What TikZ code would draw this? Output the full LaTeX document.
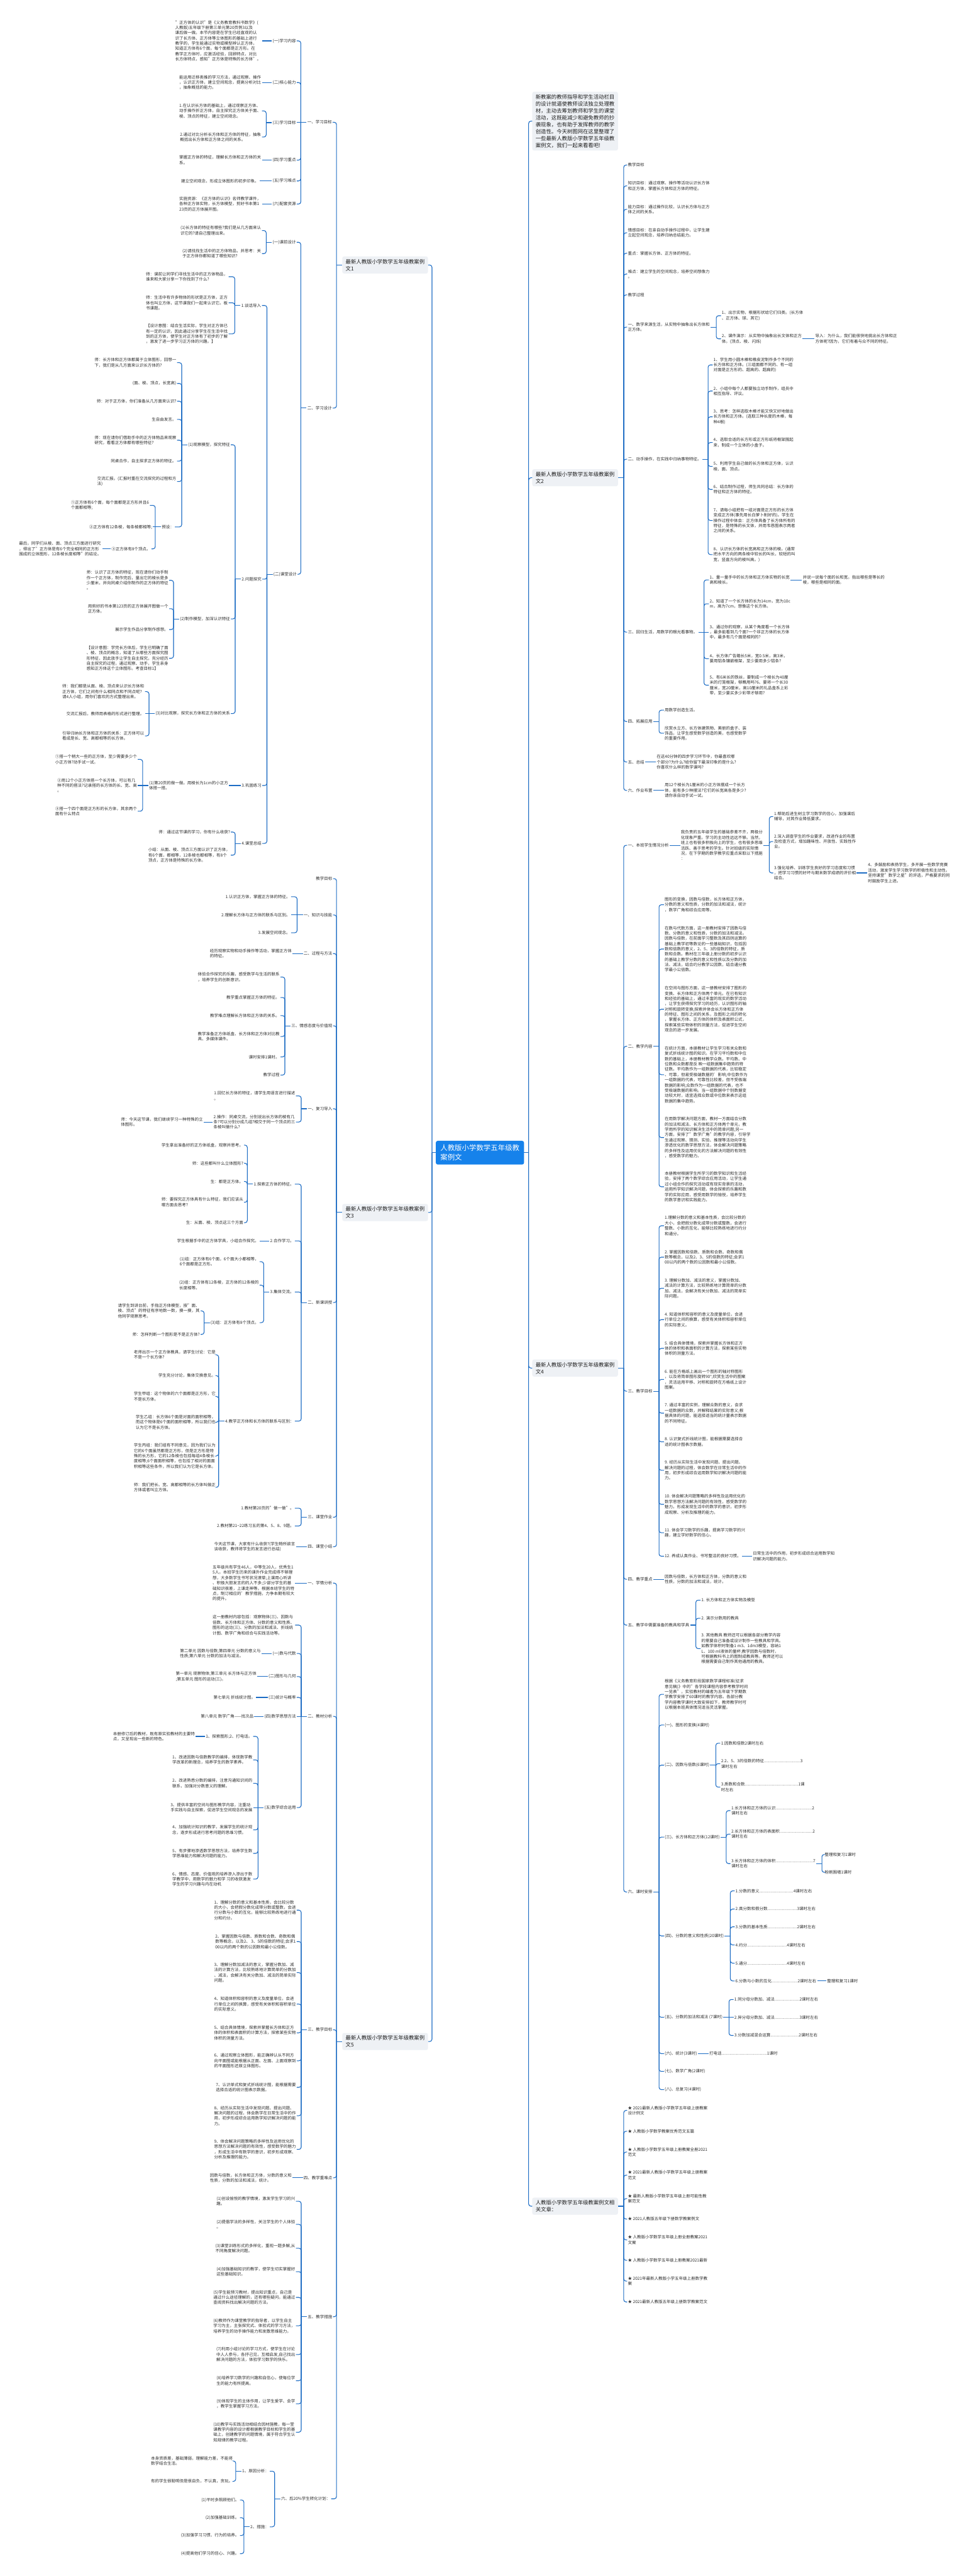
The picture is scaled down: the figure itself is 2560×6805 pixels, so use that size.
\documentclass[tikz,border=0pt]{standalone}
\usepackage{fontspec}
\setmainfont{Noto Sans CJK SC}
\usepackage{xcolor}
\definecolor{mmblue}{RGB}{28,108,196}
\definecolor{mmrootblue}{RGB}{22,130,235}
\definecolor{mmgray}{RGB}{238,241,245}
\definecolor{mmtext}{RGB}{45,45,45}
\definecolor{mmdark}{RGB}{30,30,30}
\usepackage{tikz}

\newcommand{\mmleaf}{\fontsize{10.8}{13.9}\selectfont}
\newcommand{\mmmain}{\fontsize{13.9}{18.3}\selectfont}
\newcommand{\mmrootf}{\fontsize{19}{25}\selectfont}

\tikzset{
  leaf/.style={font=\mmleaf, text=mmtext, align=left, inner sep=2pt},
  lnode/.style={leaf, anchor=east},
  rnode/.style={leaf, anchor=west},
  mainbox/.style={fill=mmgray, rounded corners=5pt, font=\mmmain, text=mmdark, align=left, inner xsep=9pt, inner ysep=7pt},
  rootbox/.style={fill=mmrootblue, rounded corners=5pt, font=\mmrootf, text=white, align=left, inner xsep=12pt, inner ysep=10pt},
  link/.style={draw=mmblue, line width=1.8pt, rounded corners=6pt}
}

% connectors: bracket to several children, or one straight line
\newcommand{\mmL}[2]{\draw[link] (#1.west) -- ++(-15,0);
  \foreach \kid in {#2} {\draw[link] ([xshift=-15pt]#1.west) |- (\kid.east);}}
\newcommand{\mmR}[2]{\draw[link] (#1.east) -- ++(15,0);
  \foreach \kid in {#2} {\draw[link] ([xshift=15pt]#1.east) |- (\kid.west);}}
\newcommand{\mmLs}[2]{\draw[link] (#1.west) -- (#1.west -| #2.east);}
\newcommand{\mmRs}[2]{\draw[link] (#1.east) -- (#1.east -| #2.west);}

\begin{document}
\begin{tikzpicture}[x=1pt, y=-1pt]
  \fill[white] (0,0) rectangle (2560,6805);
  \useasboundingbox (0,0) rectangle (2560,6805);

  % --- Root ---
  \node[rootbox] (root) at (1268,3045) {人教版小学数学五年级教\\案例文};

  % --- Main topics ---
  \node[mainbox, anchor=east] (L1) at (1131,700) {最新人教版小学数学五年级教案例\\文1};
  \node[mainbox, anchor=east] (L3) at (1131,3203) {最新人教版小学数学五年级教案例\\文3};
  \node[mainbox, anchor=east] (L5) at (1131,5393) {最新人教版小学数学五年级教案例\\文5};
  \node[mainbox, anchor=west] (R0) at (1406,320) {新教案的教师指导和学生活动栏目\\的设计就逼使教师设法独立处理教\\材，主动去筹划教师和学生的课堂\\活动，这既能减少和避免教师的抄\\袭现象，也有助于发挥教师的教学\\创造性。今天树图网在这里整理了\\一些最新人教版小学数学五年级教\\案例文，我们一起来看看吧!};
  \node[mainbox, anchor=west] (R2) at (1406,1262) {最新人教版小学数学五年级教案例\\文2};
  \node[mainbox, anchor=west] (R4) at (1406,3614) {最新人教版小学数学五年级教案例\\文4};
  \node[mainbox, anchor=west] (R6) at (1406,5828) {人教版小学数学五年级教案例文相\\关文章：};

  \draw[link] (root.west) -- ++(-10,0);
  \foreach \kid in {L1,L3,L5} {\draw[link] ([xshift=-10pt]root.west) |- (\kid.east);}
  \draw[link] (root.east) -- ++(12,0);
  \foreach \kid in {R0,R2,R4,R6} {\draw[link] ([xshift=12pt]root.east) |- (\kid.west);}

  % --- Left 1: lesson plan 1 ---
  \node[lnode] (l1a) at (879,323) {一、学习目标};
  \node[lnode] (l1a1) at (784,108) {(一)学习内容};
  \node[lnode] (l1a1t) at (692,108) {"正方体的认识"是《义务教育教科书数学》(\\人教版)五年级下册第三单元第20页例3以及\\课后做一做。本节内容是在学生已经直观的认\\识了长方体、正方体等立体图形的基础上进行\\教学的，学生能通过实物或模型辨认正方体，\\知道正方体有6个面，每个面都是正方形。在\\教学正方体时，应激活经验，回顾特点，对比\\长方体特点，感知"正方体是特殊的长方体"。};
  \node[lnode] (l1a2) at (784,218) {(二)核心能力};
  \node[lnode] (l1a2t) at (692,218) {能运用迁移类推的学习方法，通过观察、操作\\，认识正方体，建立空间观念，提高分析对比\\，抽象概括的能力。};
  \node[lnode] (l1a3) at (784,324) {(三)学习目标};
  \node[lnode] (l1a3a) at (692,293) {1.在认识长方体的基础上，通过观察正方体、\\动手操作折正方体，自主探究正方体关于面、\\棱、顶点的特征，建立空间观念。};
  \node[lnode] (l1a3b) at (692,362) {2.通过对比分析长方体和正方体的特征，抽象\\概括出长方体和正方体之间的关系。};
  \node[lnode] (l1a4) at (784,423) {(四)学习重点};
  \node[lnode] (l1a4t) at (692,423) {掌握正方体的特征，理解长方体和正方体的关\\系。};
  \node[lnode] (l1a5) at (784,478) {(五)学习难点};
  \node[lnode] (l1a5t) at (686,478) {建立空间观念，形成立体图形的初步印象。};
  \node[lnode] (l1a6) at (784,539) {(六)配套资源};
  \node[lnode] (l1a6t) at (692,539) {实施资源：《正方体的认识》名师教学课件，\\各种正方体实物，长方体模型，剪好书本第1\\23页的正方体展开图。};
  \node[lnode] (l1b) at (879,1078) {二、学习设计};
  \node[lnode] (l1b1) at (784,640) {(一)课前设计};
  \node[lnode] (l1b1a) at (692,609) {(1)长方体的特征有哪些?我们是从几方面来认\\识它的?请自己整理出来。};
  \node[lnode] (l1b1b) at (692,670) {(2)请找找生活中的正方体物品，并思考：关\\于正方体你都知道了哪些知识?};
  \node[lnode] (l1b2) at (786,1517) {(二)课堂设计};
  \node[lnode] (l1b2a) at (692,807) {1.谈话导入};
  \node[lnode] (l1b2a1) at (604,731) {师：课前让同学们寻找生活中的正方体物品，\\谁来和大家分享一下你找到了什么?};
  \node[lnode] (l1b2a2) at (604,800) {师：生活中有许多物体的形状是正方体，正方\\体也叫立方体，这节课我们一起来认识它。板\\书课题。};
  \node[lnode] (l1b2a3) at (604,882) {【设计意图：结合生活实际，学生对正方体已\\有一定的认识，因此通过分享学生在生活中找\\到的正方体，使学生对正方体有了初步的了解\\，激发了进一步学习正方体的兴趣。】};
  \node[lnode] (l1b2b) at (693,1530) {2.问题探究};
  \node[lnode] (l1b2b1) at (610,1175) {(1)观察模型，探究特征};
  \node[lnode] (q1) at (468,958) {师：长方体和正方体都属于立体图形，回想一\\下，我们是从几方面来认识长方体的?};
  \node[lnode] (q2) at (468,1013) {(面、棱、顶点，长宽高)};
  \node[lnode] (q3) at (468,1060) {师：对于正方体，你们准备从几方面来认识?};
  \node[lnode] (q4) at (468,1108) {生自由发言。};
  \node[lnode] (q5) at (468,1163) {师：现在请你们借助手中的正方体物品来观察\\研究，看看正方体都有哪些特征?};
  \node[lnode] (q6) at (468,1218) {同桌合作，自主探求正方体的特征。};
  \node[lnode] (q7) at (468,1272) {交流汇报。(汇报时重在交流探究的过程和方\\法)};
  \node[lnode] (q8) at (462,1392) {预设：};
  \node[lnode] (q8a) at (396,1335) {①正方体有6个面，每个面都是正方形并且6\\个面都相等;};
  \node[lnode] (q8b) at (404,1392) {②正方体有12条棱，每条棱都相等;};
  \node[lnode] (q8c) at (400,1450) {③正方体有8个顶点。};
  \node[lnode] (q8c1) at (270,1450) {最后，同学们从棱、面、顶点三方面进行研究\\，得出了"正方体是有6个完全相同的正方形\\围成的立体图形，12条棱长度相等"的结论。};
  \node[lnode] (l1b2b2) at (610,1635) {(2)制作模型，加深认识特征};
  \node[lnode] (m1) at (447,1533) {师：认识了正方体的特征，现在请你们动手制\\作一个正方体，制作完后，量出它的棱长是多\\少厘米，并向同桌介绍你制作的正方体的特征\\。};
  \node[lnode] (m2) at (447,1608) {用剪好的书本第123页的正方体展开图做一个\\正方体。};
  \node[lnode] (m3) at (447,1663) {展示学生作品分享制作感想。};
  \node[lnode] (m4) at (447,1739) {【设计意图：学完长方体后，学生已明确了面\\、棱、顶点的概念，知道了从哪些方面探究图\\形特征，因此放手让学生自主探究，充分经历\\自主探究的过程，通过观察、动手，学生亲身\\感知正方体这个立体图形。考查目标1】};
  \node[lnode] (l1b2b3) at (610,1885) {(3)对比观察，探究长方体和正方体的关系};
  \node[lnode] (c1) at (383,1827) {师：我们都是从面、棱、顶点来认识长方体和\\正方体，它们之间有什么相同点和不同点呢?\\请4人小组，用你们喜欢的方式整理出来。};
  \node[lnode] (c2) at (383,1885) {交流汇报后，教师用表格的形式进行整理。};
  \node[lnode] (c3) at (383,1944) {引导归纳长方体和正方体的关系：正方体可以\\看成是长、宽、高都相等的长方体。};
  \node[lnode] (l1b2c) at (693,2075) {3.巩固练习};
  \node[lnode] (l1b2c1) at (605,2075) {(1)第20页的做一做。用棱长为1cm的小正方\\体搭一搭。};
  \node[lnode] (p1) at (364,2006) {①搭一个稍大一些的正方体，至少需要多少个\\小正方体?动手试一试。};
  \node[lnode] (p2) at (364,2075) {②用12个小正方体搭一个长方体，可以有几\\种不同的搭法?记录搭的长方体的长、宽、高\\。};
  \node[lnode] (p3) at (364,2143) {③搭一个四个面是正方形的长方体，其余两个\\面有什么特点};
  \node[lnode] (l1b2d) at (693,2228) {4.课堂总结};
  \node[lnode] (s1) at (610,2198) {师：通过这节课的学习，你有什么收获?};
  \node[lnode] (s2) at (610,2259) {小结：从面、棱、顶点三方面认识了正方体，\\有6个面，都相等，12条棱也都相等，有8个\\顶点，正方体是特殊的长方体。};

  \mmL{L1}{l1a,l1b}
  \mmL{l1a}{l1a1,l1a2,l1a4,l1a5,l1a6}
  \mmLs{l1a}{l1a3}
  \mmLs{l1a1}{l1a1t} \mmLs{l1a2}{l1a2t} \mmLs{l1a4}{l1a4t} \mmLs{l1a5}{l1a5t} \mmLs{l1a6}{l1a6t}
  \mmL{l1a3}{l1a3a,l1a3b}
  \mmL{l1b}{l1b1,l1b2}
  \mmL{l1b1}{l1b1a,l1b1b}
  \mmL{l1b2}{l1b2a,l1b2b,l1b2c,l1b2d}
  \mmL{l1b2a}{l1b2a1,l1b2a2,l1b2a3}
  \mmL{l1b2b}{l1b2b1,l1b2b2,l1b2b3}
  \mmL{l1b2b1}{q1,q2,q3,q4,q5,q6,q7,q8}
  \mmL{q8}{q8a,q8c}
  \mmLs{q8}{q8b}
  \mmLs{q8c}{q8c1}
  \mmL{l1b2b2}{m1,m2,m3,m4}
  \mmL{l1b2b3}{c1,c3}
  \mmLs{l1b2b3}{c2}
  \mmLs{l1b2c}{l1b2c1}
  \mmL{l1b2c1}{p1,p3}
  \mmLs{l1b2c1}{p2}
  \mmL{l1b2d}{s1,s2}

  % --- Left 2: lesson plan 3 ---
  \node[lnode] (l3a) at (880,2321) {教学目标};
  \node[lnode] (l3b) at (880,2417) {一、知识与技能};
  \node[lnode] (l3b1) at (769,2369) {1.认识正方体，掌握正方体的特征。};
  \node[lnode] (l3b2) at (769,2417) {2.理解长方体与正方体的联系与区别。};
  \node[lnode] (l3b3) at (769,2464) {3.发展空间观念。};
  \node[lnode] (l3c) at (880,2519) {二、过程与方法};
  \node[lnode] (l3c1) at (773,2519) {经历观察实物和动手操作等活动，掌握正方体\\的特征。};
  \node[lnode] (l3d) at (880,2710) {三、情感态度与价值观};
  \node[lnode] (l3d1) at (741,2581) {体验合作探究的乐趣，感受数学与生活的联系\\，培养学生的创新意识。};
  \node[lnode] (l3d2) at (741,2635) {教学重点掌握正方体的特征。};
  \node[lnode] (l3d3) at (741,2683) {教学难点理解长方体和正方体的关系。};
  \node[lnode] (l3d4) at (741,2738) {教学准备正方体纸盒、长方体和正方体对比教\\具、多媒体课件。};
  \node[lnode] (l3d5) at (741,2792) {课时安排1课时。};
  \node[lnode] (l3d6) at (741,2840) {教学过程};
  \node[lnode] (l3e) at (880,2929) {一、复习导入};
  \node[lnode] (l3e1) at (782,2895) {1.回忆长方体的特征，请学生用语言进行描述\\。};
  \node[lnode] (l3e2) at (782,2964) {2.操作：同桌交流，分别说出长方体的棱有几\\条?可以分别分成几组?相交于同一个顶点的三\\条棱叫做什么?};
  \node[lnode] (l3e2a) at (538,2964) {师：今天这节课，我们继续学习一种特殊的立\\体图形。};
  \node[lnode] (l3f) at (880,3441) {二、新课讲授};
  \node[lnode] (l3f1) at (779,3128) {1.探索正方体的特征。};
  \node[lnode] (e1) at (645,3025) {学生拿出准备好的正方体纸盒，观察并思考。};
  \node[lnode] (e2) at (645,3073) {师：这些都叫什么立体图形?};
  \node[lnode] (e3) at (645,3121) {生：都是正方体。};
  \node[lnode] (e4) at (645,3176) {师：要探究正方体具有什么特征，我们应该从\\哪方面去思考?};
  \node[lnode] (e5) at (645,3230) {生：从面、棱、顶点这三个方面};
  \node[lnode] (l3f2) at (779,3278) {2.合作学习。};
  \node[lnode] (l3f2a) at (686,3278) {学生根据手中的正方体学具，小组合作探究。};
  \node[lnode] (l3f3) at (779,3413) {3.集体交流。};
  \node[lnode] (g1) at (686,3333) {(1)组：正方体有6个面，6个面大小都相等，\\6个面都是正方形。};
  \node[lnode] (g2) at (686,3395) {(2)组：正方体有12条棱，正方体的12条棱的\\长度相等。};
  \node[lnode] (g3) at (686,3494) {(3)组：正方体有8个顶点。};
  \node[lnode] (g3a) at (530,3463) {请学生到讲台前，手指正方体模型，按"面、\\棱、顶点"的特征有序地数一数，摸一摸，其\\他同学观察思考。};
  \node[lnode] (g3b) at (530,3525) {师：怎样判断一个图形是不是正方体?};
  \node[lnode] (l3f4) at (779,3754) {4.教学正方体和长方体的联系与区别：};
  \node[lnode] (h1) at (572,3579) {老师出示一个正方体教具，请学生讨论：它是\\不是一个长方体?};
  \node[lnode] (h2) at (572,3634) {学生充分讨论，集体交换意见。};
  \node[lnode] (h3) at (572,3689) {学生甲组：这个物体的六个面都是正方形，它\\不是长方体。};
  \node[lnode] (h4) at (572,3757) {学生乙组：长方体6个面是对面的面积相等，\\而这个物体是6个面的面积相等，所以我们也\\认为它不是长方体。};
  \node[lnode] (h5) at (572,3846) {学生丙组：我们组有不同意见，因为我们认为\\它的6个面虽然都是正方形，但是正方形是特\\殊的长方形，它的12条棱也包括每组4条棱长\\度相等;6个面面积相等，也包括了相对的面面\\积相等这些条件，所以我们认为它是长方体。};
  \node[lnode] (h6) at (572,3929) {师：我们把长、宽、高都相等的长方体叫做正\\方体或者叫立方体。};
  \node[lnode] (l3g) at (880,4008) {三、课堂作业};
  \node[lnode] (l3g1) at (779,3984) {1.教材第20页的"做一做"。};
  \node[lnode] (l3g2) at (779,4031) {2.教材第21\textasciitilde 22练习五的第4、5、8、9题。};
  \node[lnode] (l3h) at (880,4086) {四、课堂小结};
  \node[lnode] (l3h1) at (782,4086) {今天这节课，大家有什么收获?(学生畅所欲言\\谈收获，教师将学生的发言进行总结)};

  \mmL{L3}{l3a,l3b,l3c,l3d,l3e,l3f,l3g,l3h}
  \mmL{l3b}{l3b1,l3b3}
  \mmLs{l3b}{l3b2}
  \mmLs{l3c}{l3c1}
  \mmL{l3d}{l3d1,l3d2,l3d3,l3d4,l3d5,l3d6}
  \mmL{l3e}{l3e1,l3e2}
  \mmLs{l3e2}{l3e2a}
  \mmL{l3f}{l3f1,l3f2,l3f3,l3f4}
  \mmL{l3f1}{e1,e2,e3,e4,e5}
  \mmLs{l3f2}{l3f2a}
  \mmL{l3f3}{g1,g2,g3}
  \mmL{g3}{g3a,g3b}
  \mmL{l3f4}{h1,h2,h3,h4,h5,h6}
  \mmL{l3g}{l3g1,l3g2}
  \mmLs{l3h}{l3h1}

  % --- Left 3: lesson plan 5 ---
  \node[lnode] (l5a) at (880,4182) {一、学情分析};
  \node[lnode] (l5a1) at (780,4182) {五年级共有学生46人，中等生20人，优秀生1\\5人。本班学生历来的课外作业完成得不够理\\想，大多数学生书写状况潦草;上课用心听讲\\、积极大胆发言的的人不多;少部分学生的基\\础知识很差，上课走神等。根据本班学生的特\\点，制订相应的'教学措施，力争本期有较大\\的提升。};
  \node[lnode] (l5b) at (880,4534) {二、教材分析};
  \node[lnode] (l5b1) at (780,4293) {这一册教材内容包括：观察物体(三)、因数与\\倍数、长方体和正方体、分数的意义和性质、\\图形的运动(三)、分数的加法和减法、折线统\\计图、数学广角和综合与实践活动等。};
  \node[lnode] (l5b2) at (784,4368) {(一)数与代数};
  \node[lnode] (l5b2a) at (691,4368) {第二单元 因数与倍数;第四单元 分数的意义与\\性质;第六单元 分数的加法与减法。};
  \node[lnode] (l5b3) at (784,4429) {(二)图形与几何};
  \node[lnode] (l5b3a) at (680,4429) {第一单元 观察物体;第三单元 长方体与正方体\\;第五单元 图形的运动(三)。};
  \node[lnode] (l5b4) at (784,4484) {(三)统计与概率};
  \node[lnode] (l5b4a) at (677,4484) {第七单元 折线统计图。};
  \node[lnode] (l5b5) at (784,4534) {(四)数学思想方法};
  \node[lnode] (l5b5a) at (672,4534) {第八单元 数学广角——找次品};
  \node[lnode] (l5b6) at (784,4775) {(五)数学综合运用};
  \node[lnode] (k1) at (669,4587) {1、探索图形;2、打电话。};
  \node[lnode] (k1a) at (517,4587) {本册修订后的教材，既有原实验教材的主要特\\点，又呈现出一些新的特色。};
  \node[lnode] (k2) at (669,4649) {1、改进因数与倍数教学的编排，体现数学教\\学改革的新理念，培养学生的数学素养。};
  \node[lnode] (k3) at (669,4711) {2、改进熟悉分数的编排，注意沟通知识间的\\联系，加强对分数意义的理解。};
  \node[lnode] (k4) at (669,4775) {3、提供丰富的空间与图形教学内容，注重动\\手实践与自主探索，促进学生空间观念的发展};
  \node[lnode] (k5) at (669,4834) {4、加强统计知识的教学，发展学生的统计观\\念，逐步形成进行思考问题的思维习惯。};
  \node[lnode] (k6) at (669,4896) {5、有步骤地渗透数学思想方法，培养学生数\\学思维能力和解决问题的能力。};
  \node[lnode] (k7) at (669,4964) {6、情感、态度、价值观的培养渗入渗出于数\\学教学中，用数学的魅力和学 习的收获激发\\学生的学习兴趣与内在动机};
  \node[lnode] (l5c) at (880,5362) {三、教学目标};
  \node[lnode] (t1) at (784,5046) {1、理解分数的意义和基本性质，会比较分数\\的大小，会把假分数化成带分数或整数，会进\\行分数与小数的互化，能够比较熟练地进行通\\分和约分。};
  \node[lnode] (t2) at (784,5129) {2、掌握因数与倍数、质数和合数、奇数和偶\\数等概念，以及2、 3、5的倍数的特征;会求1\\00以内的两个数的公因数和最小公倍数。};
  \node[lnode] (t3) at (784,5211) {3、理解分数加减法的意义，掌握分数加、减\\法的计算方法，比较熟练地计算简单的分数加\\、减法，会解决有关分数加、减法的简单实际\\问题。};
  \node[lnode] (t4) at (784,5294) {4、知道体积和容积的意义及度量单位，会进\\行单位之间的换算，感受有关体积和容积单位\\的实际意义。};
  \node[lnode] (t5) at (784,5370) {5、结合具体情境，探索并掌握长方体和正方\\体的体积和表面积的计算方法，探索某些实物\\体积的测量方法。};
  \node[lnode] (t6) at (784,5444) {6、通过观察立体图形，能正确辨认从不同方\\向平面图或能根据从正面、左面、上面观察到\\的平面图形还原立体图形。};
  \node[lnode] (t7) at (784,5514) {7、认识单式和复式折线统计图，能根据需要\\选择合适的统计图表示数据。};
  \node[lnode] (t8) at (784,5589) {8、经历从实际生活中发现问题、提出问题、\\解决问题的过程，体会数学在日常生活中的作\\用，初步形成综合运用数学知识解决问题的能\\力。};
  \node[lnode] (t9) at (784,5678) {9、体会解决问题策略的多样性及运用优化的\\思想方法解决问题的有效性，感受数学的魅力\\，形成生活中有数学的意识，初步形成观察、\\分析及推理的能力。};
  \node[lnode] (l5d) at (880,5753) {四、教学重难点};
  \node[lnode] (l5d1) at (773,5753) {因数与倍数，长方体和正方体，分数的意义和\\性质，分数的加法和减法，统计。};
  \node[lnode] (l5e) at (880,6120) {五、教学措施};
  \node[lnode] (w1) at (782,5815) {(1)创设愉悦的教学情境，激发学生学习的兴\\趣。};
  \node[lnode] (w2) at (782,5876) {(2)提倡学法的多样性，关注学生的个人体验\\。};
  \node[lnode] (w3) at (782,5939) {(3)课堂训练形式的多样化，重视一题多解,从\\不同角度解决问题。};
  \node[lnode] (w4) at (782,6001) {(4)加强基础知识的教学，使学生切实掌握好\\这些基础知识。};
  \node[lnode] (w5) at (782,6069) {(5)学生能预习教材，提出知识重点，自己是\\通过什么途径理解的，还有哪些疑问。能通过\\查阅资料找出解决问题的方法。};
  \node[lnode] (w6) at (782,6144) {(6)教师作为课堂教学的指导者，以学生自主\\学习为主，主张探究式、体验式的学习方法，\\培养学生的动手操作能力和发散思维能力。};
  \node[lnode] (w7) at (782,6220) {(7)利用小组讨论的学习方式，使学生在讨论\\中人人参与，各抒己见，互相启发,自己找出\\解决问题的方法，体验学习数学的快乐。};
  \node[lnode] (w8) at (782,6289) {(8)培养学习数学的兴趣和自信心，使每位学\\生的能力有所提高。};
  \node[lnode] (w9) at (782,6350) {(9)体现学生的主体作用，让学生爱学、会学\\，教学生掌握学习方法。};
  \node[lnode] (w10) at (782,6425) {(10)教学与实践活动相结合因材施教，每一堂\\课教学内容的设计都根据教学目标和学生的基\\础上，创建教学的问题情境，属于符合学生认\\知规律的教学过程。};
  \node[lnode] (l5f) at (875,6601) {六、后20\%学生转化计划：};
  \node[lnode] (l5f1) at (713,6528) {1、原因分析：};
  \node[lnode] (x1) at (617,6501) {本身资质差，基础薄弱，理解能力差，不能将\\数学结合生活。};
  \node[lnode] (x2) at (617,6555) {有的学生很聪明但是很自负，不认真，贪玩。};
  \node[lnode] (l5f2) at (713,6675) {2、措施：};
  \node[lnode] (y1) at (634,6604) {(1)平时多照顾他们。};
  \node[lnode] (y2) at (634,6651) {(2)加强基础训练。};
  \node[lnode] (y3) at (634,6698) {(3)加强学习习惯、行为的培养。};
  \node[lnode] (y4) at (634,6746) {(4)提高他们学习的信心、兴趣。};

  \mmL{L5}{l5a,l5b,l5c,l5d,l5e,l5f}
  \mmLs{l5a}{l5a1}
  \mmL{l5b}{l5b1,l5b2,l5b3,l5b4,l5b6}
  \mmLs{l5b}{l5b5}
  \mmLs{l5b2}{l5b2a} \mmLs{l5b3}{l5b3a} \mmLs{l5b4}{l5b4a} \mmLs{l5b5}{l5b5a}
  \mmL{l5b6}{k1,k2,k3,k5,k6,k7}
  \mmLs{l5b6}{k4}
  \mmLs{k1}{k1a}
  \mmL{l5c}{t1,t2,t3,t4,t5,t6,t7,t8,t9}
  \mmLs{l5d}{l5d1}
  \mmL{l5e}{w1,w2,w3,w4,w5,w6,w7,w8,w9,w10}
  \mmL{l5f}{l5f1,l5f2}
  \mmL{l5f1}{x1,x2}
  \mmL{l5f2}{y1,y2,y3,y4}

  % --- Right 1: lesson plan 2 ---
  \node[rnode] (r2a) at (1657,436) {教学目标};
  \node[rnode] (r2b) at (1657,491) {知识目标：通过观察、操作等活动认识长方体\\和正方体，掌握长方体和正方体的特征。};
  \node[rnode] (r2c) at (1657,553) {能力目标：通过操作比较，认识长方体与正方\\体之间的关系。};
  \node[rnode] (r2d) at (1657,615) {情感目标：在亲自动手操作过程中，让学生建\\立起空间观念，培养归纳总结能力。};
  \node[rnode] (r2e) at (1657,669) {重点：掌握长方体、正方体的特征。};
  \node[rnode] (r2f) at (1657,724) {难点：建立学生的空间观念，培养空间想像力\\。};
  \node[rnode] (r2g) at (1657,779) {教学过程};
  \node[rnode] (r2h) at (1657,864) {一、数学来源生活，从实物中抽象出长方体和\\正方体。};
  \node[rnode] (r2h1) at (1905,834) {1、出示实物，根据形状给它们归类。(长方体\\、正方体、球、其它)};
  \node[rnode] (r2h2) at (1905,895) {2、课件演示：从实物中抽象出长文体和正方\\体。(顶点、棱、闪烁)};
  \node[rnode] (r2h2a) at (2152,895) {导入：为什么，我们能很快地挑出长方体和正\\方体呢?因为，它们有着与众不同的特征。};
  \node[rnode] (r2i) at (1657,1213) {二、动手操作，在实践中归纳事物特征。};
  \node[rnode] (n1) at (1883,964) {1、学生用小圆木棒和橡皮泥制作多个不同的\\长方体和正方体。(三组面都不同的、有一组\\对面是正方形的、超高的、超扁的)};
  \node[rnode] (n2) at (1883,1033) {2、小组中每个人都要独立动手制作，组员中\\相互指导、评议。};
  \node[rnode] (n3) at (1883,1101) {3、思考：怎样选取木棒才能又快又好地做出\\长方体和正方体。(选取三种长度的木棒，每\\种4根)};
  \node[rnode] (n4) at (1883,1169) {4、选取合适的长方形或正方形纸将框架围起\\来，制成一个立体的小盒子。};
  \node[rnode] (n5) at (1883,1232) {5、利用学生自己做的长方体和正方体，认识\\棱、面、顶点。};
  \node[rnode] (n6) at (1883,1293) {6、结合制作过程，师生共同总结：长方体的\\特征和正方体的特征。};
  \node[rnode] (n7) at (1883,1375) {7、请每小组把有一组对面是正方形的长方体\\变成正方体(事先用长白萝卜削好的)。学生在\\操作过程中体会：正方体具备了长方体所有的\\特征，是特殊的长文体，并用韦恩图表示两者\\之间的关系。};
  \node[rnode] (n8) at (1883,1465) {8、认识长方体的长宽高和正方体的棱。(通常\\把水平方向的两条棱中较长的叫长，较短的叫\\宽，竖直方向的棱叫高。)};
  \node[rnode] (r2j) at (1657,1670) {三、回归生活，用数学的眼光看事物。};
  \node[rnode] (o1) at (1873,1532) {1、量一量手中的长方体和正方体实物的长宽\\高和棱长。};
  \node[rnode] (o1a) at (2119,1532) {并说一说每个面的长和宽。指出哪些是等长的\\棱，哪些是相同的面。};
  \node[rnode] (o2) at (1873,1595) {2、知道了一个长方体的长为14cm，宽为10c\\m，高为7cm，想像这个长方体。};
  \node[rnode] (o3) at (1873,1670) {3、通过你的观察，从某个角度看一个长方体\\，最多能看到几个面?一个非正方体的长方体\\中，最多有几个面是相同的?};
  \node[rnode] (o4) at (1873,1740) {4、长方体广告箱长5米，宽0.5米，高3米，\\要用铝条镶嵌框架，至少要用多少铝条?};
  \node[rnode] (o5) at (1873,1810) {5、有6米长的铁丝，要制成一个棱长为40厘\\米的灯笼框架，够瞧用吗?6、要将一个长30\\厘米，宽20厘米，高10厘米的礼品盒系上彩\\带，至少要买多少彩带才够用?};
  \node[rnode] (r2k) at (1657,1906) {四、拓展应用};
  \node[rnode] (r2k1) at (1754,1876) {用数学创造生活。};
  \node[rnode] (r2k2) at (1754,1937) {欣赏水立方、长方体建筑物、美丽的盒子、装\\饰品，让学生感受数学创造的美，也感受数学\\的重要作用。};
  \node[rnode] (r2l) at (1657,2013) {五、总结};
  \node[rnode] (r2l1) at (1733,2013) {在这40分钟的四步学习环节中，你最喜欢哪\\个部分?为什么?给你留下最深印象的是什么?\\你喜欢什么样的数学课吗?};
  \node[rnode] (r2m) at (1657,2088) {六、作业布置};
  \node[rnode] (r2m1) at (1754,2088) {用12个棱长为1厘米的小正方体摆成一个长方\\体，能有多少种摆法?它们的长宽高各是多少?\\请你亲自动手试一试。};

  \mmR{R2}{r2a,r2b,r2c,r2d,r2e,r2f,r2g,r2h,r2i,r2j,r2k,r2l,r2m}
  \mmR{r2h}{r2h1,r2h2}
  \mmRs{r2h2}{r2h2a}
  \mmR{r2i}{n1,n2,n3,n4,n5,n6,n7,n8}
  \mmR{r2j}{o1,o2,o4,o5}
  \mmRs{r2j}{o3}
  \mmRs{o1}{o1a}
  \mmR{r2k}{r2k1,r2k2}
  \mmRs{r2l}{r2l1}
  \mmRs{r2m}{r2m1}

  % --- Right 2: lesson plan 4 ---
  \node[rnode] (r4a) at (1657,2233) {一、本班学生情况分析};
  \node[rnode] (r4a1) at (1797,2233) {我负责的五年级学生的基础参差不齐，两极分\\化现象严重。学习的主动性远远不够。当然，\\班上也有很多积极向上的学生，也有很多思维\\活跃、善于思考的学生。针对班级的实际情\\况，在下学期的数学教学应重点采取以下措施\\：};
  \node[rnode] (u1) at (2043,2157) {1.帮助后进生树立学习数学的信心，加强课后\\辅导，对其作业降低要求。};
  \node[rnode] (u2) at (2043,2223) {2.深入调查学生的作业要求，改进作业的布置\\及检查方式，增加趣味性、开放性、实践性作\\业。};
  \node[rnode] (u3) at (2043,2306) {3.强化培养、训练学生良好的学习态度和习惯\\，把学习习惯的好坏与期末数学成绩的评价相\\结合。};
  \node[rnode] (u3a) at (2291,2306) {4、多鼓励和表扬学生，多开展一些数学竞赛\\活动，激发学生学习数学的积极性和主动性。\\坚持课堂"数学之星"的评选，严格要求的同\\时鼓励学生上进。};
  \node[rnode] (r4b) at (1657,2764) {二、教学内容};
  \node[rnode] (v1) at (1754,2390) {图形的变换，因数与倍数，长方体和正方体，\\分数的意义和性质，分数的加法和减法，统计\\，数学广角和综合应用等。};
  \node[rnode] (v2) at (1754,2507) {在数与代数方面，这一册教材安排了因数与倍\\数、分数的意义和性质，分数的加法和减法。\\因数与倍数，在前面学习整数及其四则运算的\\基础上教学初等数论的一些基础知识，包括因\\数和倍数的意义，2、5、3的倍数的特征，质\\数和合数。教材在三年级上册分数的初步认识\\的基础上教学分数的意义和性质以及分数的加\\法、减法，结合约分教学公因数，结合通分教\\学最小公倍数。};
  \node[rnode] (v3) at (1754,2666) {在空间与图形方面，这一册教材安排了图形的\\变换、长方体和正方体两个单元。在已有知识\\和经验的基础上，通过丰富的现实的数学活动\\，让学生获得探究学习的经历，认识图形的轴\\对称和旋转变换;探索并体会长方体和正方体\\的特征、图形之间的关系，及图形之间的转化\\，掌握长方体、正方体的体积及表面积公式，\\探索某些实物体积的测量方法，促进学生空间\\观念的进一步发展。};
  \node[rnode] (v4) at (1754,2839) {在统计方面，本册教材让学生学习有关众数和\\复式折线统计图的知识。在学习平均数和中位\\数的基础上，本册教材教学众数。平均数、中\\位数和众数都是反 映一组数据集中趋势的特\\征数。平均数作为一组数据的代表，比较稳定\\、可靠，但易受极端数据的'影响;中位数作为\\一组数据的代表，可靠性比较差，但不受极端\\数据的影响;众数作为一组数据的代表，也不\\受极端数据的影响。当一组数据中个别数据变\\动较大时，适宜选择众数或中位数来表示这组\\数据的集中趋势。};
  \node[rnode] (v5) at (1754,3005) {在用数学解决问题方面，教材一方面结合分数\\的加法和减法、长方体和正方体两个单元，教\\学用所学的知识解决生活中的简单问题;另一\\方面，安排了"数学广角"的教学内容，引导学\\生通过观察、猜测、实验、推理等活动向学生\\渗透优化的数学思想方法，体会解决问题策略\\的多样性及运用优化的方法解决问题的有效性\\，感受数学的魅力。};
  \node[rnode] (v6) at (1754,3135) {本册教材根据学生所学习的数学知识和生活经\\验，安排了两个数学综合应用活动，让学生通\\过小组合作的探究活动或有现实背景的活动，\\运用所学知识解决问题，体会探索的乐趣和数\\学的实际应用，感受用数学的愉悦，培养学生\\的数学意识和实践能力。};
  \node[rnode] (r4c) at (1657,3675) {三、教学目标};
  \node[rnode] (z1) at (1754,3238) {1.理解分数的意义和基本性质，会比较分数的\\大小，会把假分数化成带分数或整数，会进行\\整数、小数的互化，能够比较熟练地进行约分\\和通分。};
  \node[rnode] (z2) at (1754,3321) {2. 掌握因数和倍数、质数和合数、奇数和偶\\数等概念，以及2、3、5的倍数的特征;会求1\\00以内的两个数的公因数和最小公倍数。};
  \node[rnode] (z3) at (1754,3403) {3. 理解分数加、减法的意义，掌握分数加、\\减法的计算方法，比较熟练地计算简单的分数\\加、减法，会解决有关分数加、减法的简单实\\际问题。};
  \node[rnode] (z4) at (1754,3486) {4. 知道体积和容积的意义及度量单位，会进\\行单位之间的换算，感受有关体积和容积单位\\的实际意义。};
  \node[rnode] (z5) at (1754,3562) {5. 结合具体情境，探索并掌握长方体和正方\\体的体积和表面积的计算方法，探索某些实物\\体积的测量方法。};
  \node[rnode] (z6) at (1754,3644) {6. 能在方格纸上画出一个图形的轴对称图形\\，以及将简单图形旋转90°;欣赏生活中的图案\\，灵活运用平移、对称和旋转在方格纸上设计\\图案。};
  \node[rnode] (z7) at (1754,3733) {7. 通过丰富的实例，理解众数的意义，会求\\一组数据的众数，并解释结果的实际意义;根\\据具体的问题，能选择适当的统计量表示数据\\的不同特征。};
  \node[rnode] (z8) at (1754,3809) {8. 认识复式折线统计图，能根据需要选择合\\适的统计图表示数据。};
  \node[rnode] (z9) at (1754,3884) {9. 经历从实际生活中发现问题、提出问题、\\解决问题的过程，体会数学在日常生活中的作\\用，初步形成综合运用数学知识解决问题的能\\力。};
  \node[rnode] (z10) at (1754,3974) {10. 体会解决问题策略的多样性及运用优化的\\数学思想方法解决问题的有效性，感受数学的\\魅力。形成发现生活中的数学的意识，初步形\\成观察、分析及推理的能力。};
  \node[rnode] (z11) at (1754,4049) {11. 体会学习数学的乐趣，提高学习数学的兴\\趣，建立学好数学的信心。};
  \node[rnode] (z12) at (1754,4111) {12. 养成认真作业、书写整洁的良好习惯。};
  \node[rnode] (z12a) at (1987,4111) {日常生活中的作用，初步形成综合运用数学知\\识解决问题的能力。};
  \node[rnode] (r4d) at (1657,4172) {四、教学重点};
  \node[rnode] (r4d1) at (1754,4172) {因数与倍数，长方体和正方体，分数的意义和\\性质，分数的加法和减法，统计。};
  \node[rnode] (r4e) at (1657,4293) {五、教学中需要准备的教具和学具};
  \node[rnode] (j1) at (1851,4227) {1. 长方体和正方体实物及模型};
  \node[rnode] (j2) at (1851,4275) {2. 演示分数用的教具};
  \node[rnode] (j3) at (1851,4355) {3. 其他教具 教师还可以根据各部分教学内容\\的需要自己准备或设计制作一些教具和学具。\\如教学体积时制备1 m3、1dm3模型，容纳1\\L、100 ml液体的量杯;教学因数与倍数时，\\可根据教科书上的图制成教具等。教师还可以\\根据需要自己制作其他通用的教具。};
  \node[rnode] (r4f) at (1657,4998) {六、课时安排};
  \node[rnode] (f1) at (1754,4476) {根据《义务教育阶段国家数学课程标准(征求\\意见稿)》中的"各学段课程内容参考教学时间\\一览表"，实验教材的编者为五年级下学期数\\学教学安排了60课时的教学内容。各部分教\\学内容教学课时大致安排如下，教师教学时可\\以根据本班具体情况适当灵活掌握。};
  \node[rnode] (f2) at (1754,4557) {(一)、图形的变换(4课时)};
  \node[rnode] (f3) at (1754,4663) {(二)、因数与倍数(6课时)};
  \node[rnode] (f3a) at (1903,4605) {1.因数和倍数2课时左右};
  \node[rnode] (f3b) at (1903,4659) {2.2、5、3的倍数的特征................................3\\课时左右};
  \node[rnode] (f3c) at (1903,4721) {3.质数和合数...............................................1课\\时左右};
  \node[rnode] (f4) at (1754,4853) {(三)、长方体和正方体(12课时)};
  \node[rnode] (f4a) at (1930,4783) {1.长方体和正方体的认识................................2\\课时左右};
  \node[rnode] (f4b) at (1930,4845) {2.长方体和正方体的表面积.............................2\\课时左右};
  \node[rnode] (f4c) at (1930,4923) {3.长方体和正方体的体积.................................7\\课时左右};
  \node[rnode] (f4c1) at (2177,4899) {整理和复习1课时};
  \node[rnode] (f4c2) at (2177,4946) {粉刷围墙1课时};
  \node[rnode] (f5) at (1754,5114) {(四)、分数的意义和性质(20课时)};
  \node[rnode] (f5a) at (1941,4995) {1.分数的意义..............................4课时左右};
  \node[rnode] (f5b) at (1941,5043) {2.真分数和假分数..........................3课时左右};
  \node[rnode] (f5c) at (1941,5090) {3.分数的基本性质..........................2课时左右};
  \node[rnode] (f5d) at (1941,5138) {4.约分...................................4课时左右};
  \node[rnode] (f5e) at (1941,5186) {5.通分...................................4课时左右};
  \node[rnode] (f5f) at (1941,5233) {6.分数与小数的互化.......................2课时左右};
  \node[rnode] (f5f1) at (2183,5233) {整理和复习1课时};
  \node[rnode] (f6) at (1754,5329) {(五)、分数的加法和减法 (7课时)};
  \node[rnode] (f6a) at (1938,5282) {1.同分母分数加、减法......................2课时左右};
  \node[rnode] (f6b) at (1938,5329) {2.异分母分数加、减法......................3课时左右};
  \node[rnode] (f6c) at (1938,5377) {3.分数加减混合运算.........................2课时左右};
  \node[rnode] (f7) at (1754,5425) {(六)、统计(3课时)};
  \node[rnode] (f7a) at (1872,5425) {打电话........................................1课时};
  \node[rnode] (f8) at (1754,5472) {(七)、数学广角(2课时)};
  \node[rnode] (f9) at (1754,5520) {(八)、总复习(4课时)};

  \mmR{R4}{r4a,r4b,r4c,r4d,r4e,r4f}
  \mmRs{r4a}{r4a1}
  \mmR{r4a1}{u1,u2,u3}
  \mmRs{u3}{u3a}
  \mmR{r4b}{v1,v2,v3,v4,v5,v6}
  \mmR{r4c}{z1,z2,z3,z4,z5,z6,z7,z8,z9,z10,z11,z12}
  \mmRs{z12}{z12a}
  \mmRs{r4d}{r4d1}
  \mmR{r4e}{j1,j2,j3}
  \mmR{r4f}{f1,f2,f3,f4,f5,f6,f7,f8,f9}
  \mmR{f3}{f3a,f3b,f3c}
  \mmR{f4}{f4a,f4b,f4c}
  \mmR{f4c}{f4c1,f4c2}
  \mmR{f5}{f5a,f5b,f5c,f5d,f5e,f5f}
  \mmRs{f5f}{f5f1}
  \mmR{f6}{f6a,f6c}
  \mmRs{f6}{f6b}
  \mmRs{f7}{f7a}

  % --- Right 3: related articles ---
  \node[rnode] (a1) at (1657,5575) {★ 2021最新人教版小学数学五年级上册教案\\设计例文};
  \node[rnode] (a2) at (1657,5630) {★ 人教版小学数学教案优秀范文五篇};
  \node[rnode] (a3) at (1657,5685) {★ 人教版小学数学五年级上册教案全册2021\\范文};
  \node[rnode] (a4) at (1657,5746) {★ 2021最新人教版小学数学五年级上册教案\\范文};
  \node[rnode] (a5) at (1657,5808) {★ 最新人教版小学数学五年级上册可能性教\\案范文};
  \node[rnode] (a6) at (1657,5862) {★ 2021人教版五年级下册数学教案例文};
  \node[rnode] (a7) at (1657,5917) {★ 人教版小学数学五年级上册全册教案2021\\文案};
  \node[rnode] (a8) at (1657,5971) {★ 人教版小学数学五年级上册教案2021最新};
  \node[rnode] (a9) at (1657,6026) {★ 2021年最新人教版小学五年级上册数学教\\案};
  \node[rnode] (a10) at (1657,6081) {★ 2021最新人教版五年级上册数学教案范文};

  \mmR{R6}{a1,a2,a3,a4,a5,a6,a7,a8,a9,a10}
\end{tikzpicture}
\end{document}
